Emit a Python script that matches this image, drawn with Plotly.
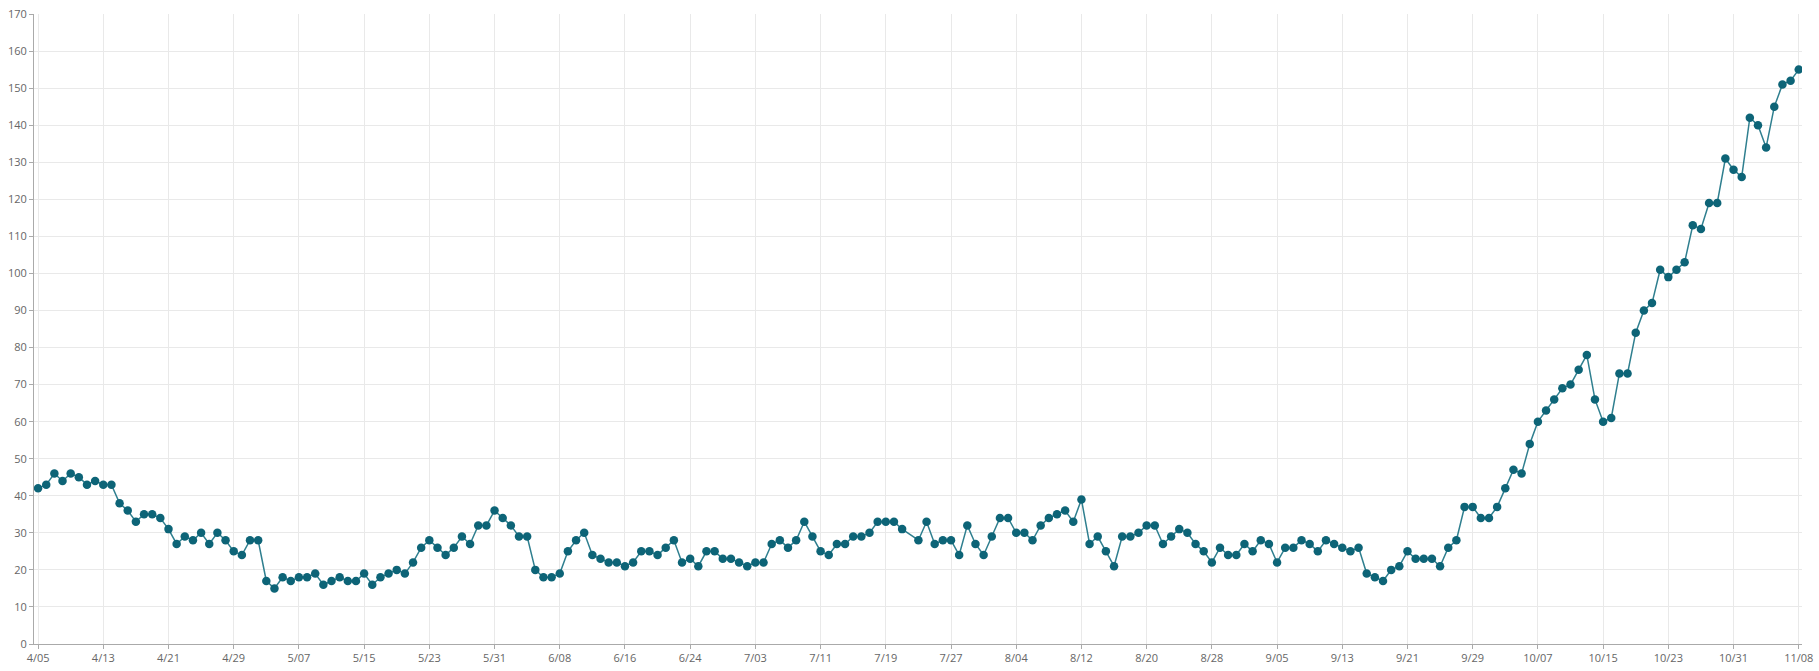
import pandas as pd
import plotly.graph_objects as go

# Daily values by month (M/DD categories; 7/01 absent from the series, 7/22 has no value)
apr = [42, 43, 46, 44, 46, 45, 43, 44, 43, 43, 38, 36, 33, 35, 35, 34, 31, 27, 29, 28, 30, 27, 30, 28, 25, 24]
may = [28, 28, 17, 15, 18, 17, 18, 18, 19, 16, 17, 18, 17, 17, 19, 16, 18, 19, 20, 19, 22, 26, 28, 26, 24, 26, 29, 27, 32, 32, 36]
jun = [34, 32, 29, 29, 20, 18, 18, 19, 25, 28, 30, 24, 23, 22, 22, 21, 22, 25, 25, 24, 26, 28, 22, 23, 21, 25, 25, 23, 23, 22]
jul = [21, 22, 22, 27, 28, 26, 28, 33, 29, 25, 24, 27, 27, 29, 29, 30, 33, 33, 33, 31, None, 28, 33, 27, 28, 28, 24, 32, 27, 24]
aug = [29, 34, 34, 30, 30, 28, 32, 34, 35, 36, 33, 39, 27, 29, 25, 21, 29, 29, 30, 32, 32, 27, 29, 31, 30, 27, 25, 22, 26, 24, 24]
sep = [27, 25, 28, 27, 22, 26, 26, 28, 27, 25, 28, 27, 26, 25, 26, 19, 18, 17, 20, 21, 25, 23, 23, 23, 21, 26, 28, 37, 37, 34]
oct_ = [34, 37, 42, 47, 46, 54, 60, 63, 66, 69, 70, 74, 78, 66, 60, 61, 73, 73, 84, 90, 92, 101, 99, 101, 103, 113, 112, 119, 119, 131, 128]
nov = [126, 142, 140, 134, 145, 151, 152, 155]

start_date = "2021-04-05"
end_date = "2021-11-08"
skipped_dates = ["2021-07-01"]

tick_labels = ["4/05", "4/13", "4/21", "4/29", "5/07", "5/15", "5/23", "5/31", "6/08", "6/16",
               "6/24", "7/03", "7/11", "7/19", "7/27", "8/04", "8/12", "8/20", "8/28", "9/05",
               "9/13", "9/21", "9/29", "10/07", "10/15", "10/23", "10/31", "11/08"]

values = apr + may + jun + jul + aug + sep + oct_ + nov
dates = [d for d in pd.date_range(start_date, end_date, freq="D")
         if d.strftime("%Y-%m-%d") not in skipped_dates]
categories = [f"{d.month}/{d.day:02d}" for d in dates]

color = "#0d6477"
fig = go.Figure(
    go.Scatter(
        x=categories, y=values, mode="lines+markers",
        connectgaps=True,
        line=dict(color="#2f7f8f", width=1.5),
        marker=dict(color=color, size=8.5),
        showlegend=False,
    )
)

axis_font = dict(family="Open Sans, Arial, sans-serif", size=11, color="#666666")
fig.update_layout(
    width=1819, height=671,
    margin=dict(l=34, r=14, t=6, b=27),
    paper_bgcolor="white", plot_bgcolor="white",
    xaxis=dict(
        type="category",
        categoryorder="array", categoryarray=categories,
        tickmode="array", tickvals=tick_labels, ticktext=tick_labels,
        range=[-0.5, len(categories) - 0.6],
        showgrid=True, gridcolor="#e9e9e9", gridwidth=1,
        showline=True, linecolor="#aaaaaa", linewidth=1,
        ticks="outside", ticklen=4, tickcolor="#aaaaaa",
        tickfont=axis_font, zeroline=False,
    ),
    yaxis=dict(
        range=[0, 170], dtick=10, tick0=0,
        showgrid=True, gridcolor="#e9e9e9", gridwidth=1,
        showline=True, linecolor="#aaaaaa", linewidth=1,
        ticks="outside", ticklen=4, tickcolor="#aaaaaa",
        tickfont=axis_font, zeroline=False,
        ticklabeloverflow="allow",
    ),
)

fig.write_html(
    "out.html",
    config={"displayModeBar": False},
    post_script="document.body.style.margin='0';document.body.style.overflow='hidden';",
)
